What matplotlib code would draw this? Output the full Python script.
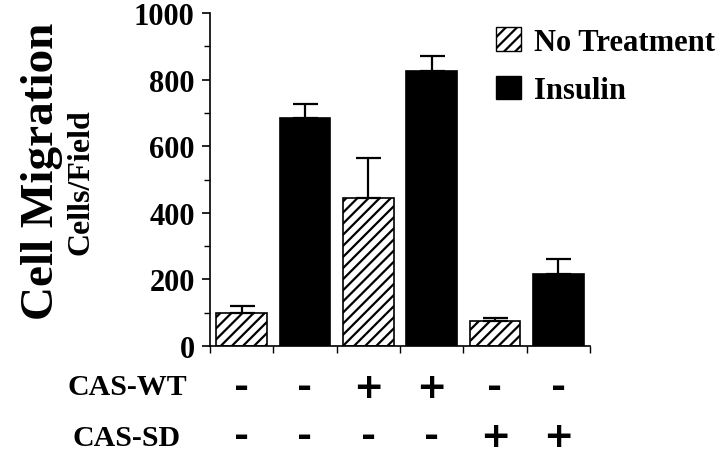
import matplotlib
matplotlib.use("Agg")
from matplotlib import pyplot as plt
from matplotlib.ticker import MultipleLocator
from matplotlib.patches import Patch
import numpy as np

plt.rcParams["font.family"] = "Liberation Serif"
plt.rcParams["font.weight"] = "bold"
plt.rcParams["hatch.linewidth"] = 1.6

hodnoty = [100, 684, 444, 825, 75, 216]
chyby = [20, 42, 120, 45, 10, 45]
skupiny = ["No Treatment", "Insulin", "No Treatment", "Insulin", "No Treatment", "Insulin"]
cas_wt = ["-", "-", "+", "+", "-", "-"]
cas_sd = ["-", "-", "-", "-", "+", "+"]

fig = plt.figure(figsize=(7.2, 4.56), dpi=100)
ax = fig.add_axes([0.2917, 0.239, 0.5277, 0.730])

x = np.arange(len(hodnoty))
for i, (h, e, s) in enumerate(zip(hodnoty, chyby, skupiny)):
    if s == "Insulin":
        ax.bar(x[i], h, width=0.8, color="black", edgecolor="black", linewidth=1.2)
    else:
        ax.bar(x[i], h, width=0.8, color="white", edgecolor="black", linewidth=1.2, hatch="///")
    ax.errorbar(x[i], h, yerr=[[0], [e]], color="black", capsize=9, elinewidth=1.6, capthick=1.6, fmt="none")

ax.set_xlim(-0.5, len(hodnoty) - 0.5)
ax.set_ylim(0, 1000)
ax.set_xticks(np.arange(-0.5, len(hodnoty), 1.0))
ax.set_xticklabels([])
ax.yaxis.set_major_locator(MultipleLocator(200))
ax.yaxis.set_minor_locator(MultipleLocator(100))
ax.tick_params(axis="y", which="major", length=6, width=1.2, labelsize=22, pad=5)
ax.tick_params(axis="y", which="minor", length=4, width=1)
ax.tick_params(axis="x", length=5, width=1)
for lab in ax.get_yticklabels():
    lab.set_fontweight("bold")
ax.spines["top"].set_visible(False)
ax.spines["right"].set_visible(False)
ax.spines["left"].set_linewidth(1.2)
ax.spines["bottom"].set_linewidth(1.2)

fig.text(0.058, 0.625, "Cell Migration", rotation=90, fontsize=34, fontweight="bold", ha="center", va="center")
fig.text(0.112, 0.60, "Cells/Field", rotation=90, fontsize=23, fontweight="bold", ha="center", va="center")

# popisky pod grafem
fig.text(127 / 720, 1 - 388 / 456, "CAS-WT", fontsize=21.5, fontweight="bold", ha="center", va="center")
fig.text(127 / 720, 1 - 439 / 456, "CAS-SD", fontsize=21.5, fontweight="bold", ha="center", va="center")
for i in range(len(hodnoty)):
    xf = ax.transData.transform((x[i], 0))[0]
    xf = fig.transFigure.inverted().transform((xf, 0))[0]
    fig.text(xf, 1 - 388 / 456, cas_wt[i], fontsize=26, fontweight="bold", ha="center", va="center", family="DejaVu Sans")
    fig.text(xf, 1 - 437 / 456, cas_sd[i], fontsize=26, fontweight="bold", ha="center", va="center", family="DejaVu Sans")

handles = [Patch(facecolor="white", edgecolor="black", hatch="///", label="No Treatment"),
           Patch(facecolor="black", edgecolor="black", label="Insulin")]
fig.legend(handles=handles, loc="upper left", bbox_to_anchor=(0.672, 0.965), frameon=False,
           prop={"size": 22, "weight": "bold"}, handlelength=0.82, handleheight=0.82,
           handletextpad=0.43, labelspacing=0.62, borderaxespad=0)

fig.savefig("out.png", dpi=100)
